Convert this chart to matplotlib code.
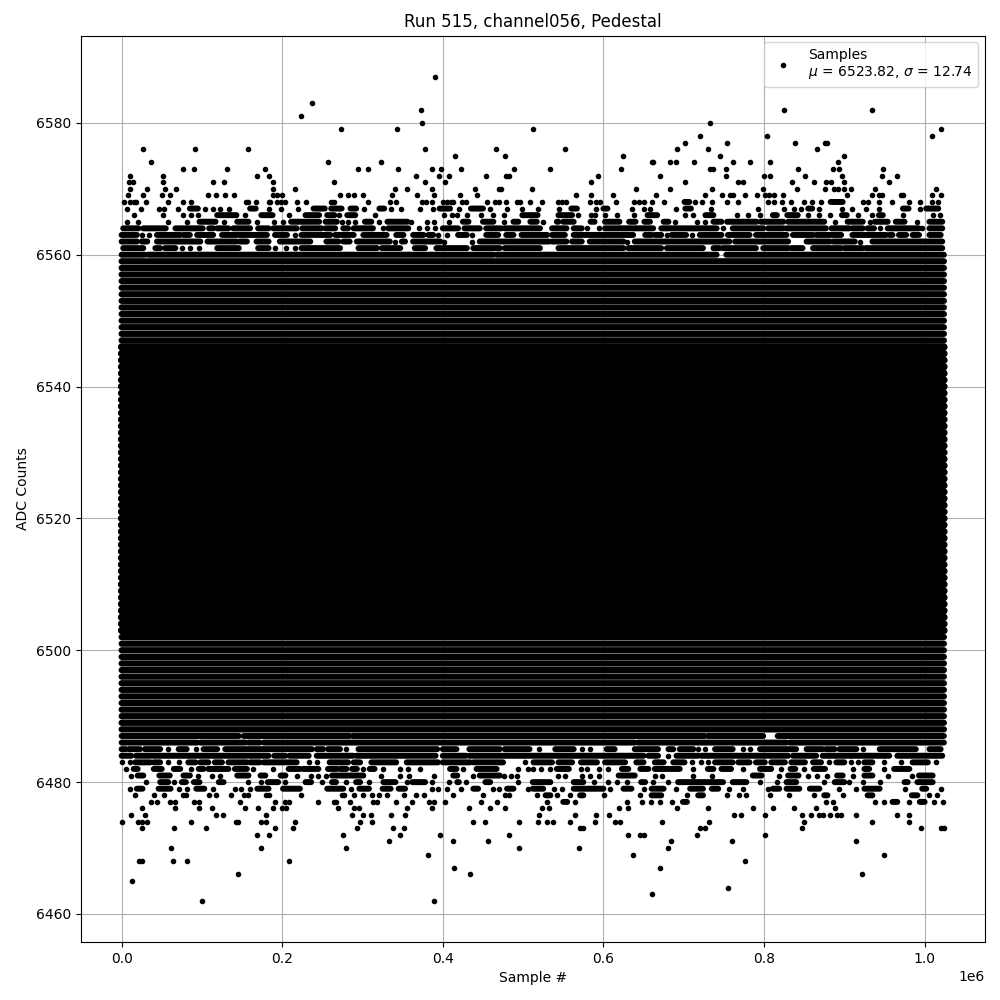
import numpy as np
import matplotlib
matplotlib.use('Agg')
import matplotlib.pyplot as plt

# sample positions, in thousands of samples
# a number is one sample, a tuple is a run of touching samples
lvl_6587 = [390.6]
lvl_6583 = [237.6]
lvl_6582 = [373, 825, 934]
lvl_6581 = [224]
lvl_6580 = [374, 733]
lvl_6579 = [273.6, 343, 512, 1021]
lvl_6578 = [720, 804, 1009]
lvl_6577 = [701, 754, 838, 876, 879]
lvl_6576 = [27, 91, 158, 378, 466, 552, 692, 730, 866]
lvl_6575 = [415, 478, 625, 745, 899]
lvl_6574 = [37, 257, 323, 660, 662, 683, 691, 713, 761, 783, 807, 892]
lvl_6573 = [77, 90, 131, 179, 295, 307, 344.5, 386, 398, 423, 489, 534, 622, 733, 737, 753, 842, 886, 894, 948]
lvl_6572 = [10, 51, 168, 184, 367, 395.5, 407.5, 454, 479, 482.5, 593, 670, 753, 800, 807, 851, 897, 947, 966]
lvl_6571 = [9, 14, 51, 114, 127, 189, 264, 378, 403, 584, 702, 768, 774, 835, 862, 877, 883, 899, 956]
lvl_6570 = [11, 32, 53.5, 68, 189, 216, 341, 356, 387, 440, 470, 472.6, 511, 641, 683, 735, 799, 841, 876, 887, 892,
            899, 908, 938, 1014]
lvl_6569 = [7.5, 27, 50, 60, 108, 117, 129, 140.5, 189, 193, 200, 272, 282, 290, 301, 337, 368, 389, 421.6, 443, 566,
            585, 612, 666, 727, 748, 758, 761, 776, 791, 801, 806, 812, 824, 903, 935, 943, 947, 970, 973, 1009, 1020]
lvl_6568 = [2.5, 10, 15, 17.5, 30, 58, 76, 87, 155.5, 158, 167, 183, 185, 194, 198, 204, 218, 230, 261, 265, 307,
            334.5, 342, 374, 379, 387, 400, 405, 410, 413, 424, 429, 455, 465, 470, 479, 492.5, 496, 509, 523, 544,
            549, 554, 583, 591, 596, 616, 638, 644, 650, 661, 675, (701, 707), 714, 723, 735, 754, 768, 805, 812, 822,
            833, 850, 860, 871, (883, 898), 923, 930, 943, 960, 981, 994, 1009, 1017]
lvl_6567 = [7, 24, 47, 53, 70, (85, 95), 104, 114, 123, 134, (160, 167), 184, 198, 220, (239, 253), (261, 274),
            (285, 292), 302, (321, 327), 335, 348, 372, 388, (396, 409), 420, (435, 450), 459, 480, 499, 519, 545,
            (560, 567), 591, (600, 605), 636, 651, 658, 691, (702, 709), 734, 793, 825, 837, 846, (855, 860), 868,
            897, 909, 927, 943, (973, 980), 994, (1002, 1017)]
lvl_6566 = [15, 51, 76, 87, 95, (119, 143), 154, (174, 188), 208, (229, 246), (256, 265), 271, (281, 291), 316, 402,
            412, 418, 430, 448, 463, 476, (499, 518), (544, 561), 568, 584, 589, 602, 617, 638, (655, 667), 701, 712,
            (727, 737), 766, 780, 795, (811, 816), (829, 842), 855, 868, 882, (897, 903), 917, 934, (943, 948), 973,
            1011, 1019]
lvl_6565 = [7, 21, 58, 82, (97, 117), 127, (144, 158), 169, 190, 201, (211, 246), (254, 268), 274, 282, 291,
            (303, 311), 320, (331, 356), 360, 380, 389, 408, (425, 432), (450, 463), 476, (488, 494), (509, 517),
            525, (542, 544), (550, 563), (584, 589), (602, 620), (632, 640), (651, 658), (675, 681), 689, 717, 727,
            (737, 747), (754, 791), (796, 824), (830, 875), 889, (904, 923), 932, (938, 954), (964, 975), 991,
            (1006, 1022)]
lvl_6564 = [(2, 21), (27, 55), (67, 101), (109, 114), (119, 133), (139, 160), (170, 183), (189, 218), (225, 249),
            (254, 266), (276, 282), (289, 313), 326, (332, 357), 370, 380, 390, (400, 419), (427, 446), (454, 473),
            (477, 521), (536, 554), (563, 573), 580, 594, (602, 633), (635, 662), (672, 681), (683, 741), 749,
            (761, 799), (805, 824), (828, 877), (884, 906), (910, 923), (929, 937), 944, (954, 993), 997, (1006, 1022)]
lvl_6563 = [(0, 19), 26, 34, (44, 73), (77, 85), (94, 114), (125, 181), (191, 206), 216, (224, 260), (266, 289),
            (301, 330), (342, 351), (363, 376), (382, 388), 394, 405, (419, 430), 436, (454, 469), (479, 488),
            (498, 530), (536, 552), (563, 637), (652, 660), (664, 672), 679, (685, 703), 710, (720, 747), (755, 782),
            (790, 828), (836, 861), (865, 896), (910, 952), (956, 960), (968, 977), (985, 993), (1006, 1020)]
lvl_6562 = [(0, 19), (25, 32), (44, 67), (69, 98), (107, 143), (147, 156), (168, 183), (197, 235), (255, 270),
            (276, 284), (293, 334), 340, (349, 353), (363, 397), 401, 436, (446, 532), (536, 554), (561, 573),
            (583, 625), 629, (639, 757), (764, 830), (853, 882), (886, 913), 919, (935, 1022)]
lvl_6561 = [(2, 27), (42, 48), (54, 67), 75, 85, 96, (119, 146), (170, 183), 191, 205, 216, (224, 272), (295, 318),
            (324, 347), (365, 378), (392, 430), (438, 471), (477, 521), (544, 625), (631, 672), (679, 724), (737, 745),
            (749, 790), (799, 830), (834, 848), (861, 896), (900, 923), (927, 1022)]
lvl_6560 = [(0, 29), (33, 463), (467, 741), (753, 1024)]
lvl_6487 = [(0, 146), (152, 284), (288, 726), (730, 799), (817, 1024)]
lvl_6486 = [(0, 94), (98, 154), (158, 172), (177, 639), (643, 828), (832, 1024)]
lvl_6485 = [(0, 5), (9, 23), (29, 48), 58, (71, 81), 93, (102, 119), (129, 237), (243, 251), (257, 272), 280,
            (295, 393), (400, 417), (433, 471), (477, 508), 520, (540, 563), 573, 583, (604, 614), (639, 668),
            (681, 687), (695, 712), 718, 726, (739, 761), 774, 782, (795, 840), (853, 873), (877, 888), (894, 915),
            923, (944, 989), (1006, 1020)]
lvl_6484 = [(0, 12), (18, 183), (190, 204), (209, 233), (243, 288), (292, 391), (400, 429), (433, 650), (656, 668),
            681, (691, 718), (722, 830), (836, 865), (873, 956), (966, 1022)]
lvl_6483 = [0, 10, (17, 36), (40, 48), 58, 72, (83, 92), (98, 108), (116, 125), (133, 156), (160, 172), (177, 218),
            233, 243, (259, 282), (289, 297), (311, 342), (355, 394), (400, 434), (438, 475), 502, (513, 536),
            (544, 561), (572, 592), (602, 627), (641, 650), (664, 675), (687, 701), 710, 722, 730, (739, 761),
            (768, 782), (790, 801), (809, 826), (834, 851), (861, 871), 881, (890, 900), 908, 917, (925, 935), 949,
            971, (985, 1004), 1014]
lvl_6482 = [5, (15, 20), (40, 50), (65, 73), 87, (96, 102), (108, 133), (141, 156), 163, 188, (208, 222), (226, 245),
            (257, 268), (272, 280), (287, 293), 301, (309, 315), 326, 347, 357, 372, (409, 417), 425, (442, 467), 494,
            506, 512, 522, 534, (542, 557), 572, 580, 594, 606, (623, 631), (646, 656), (664, 695), 712, (730, 737),
            (747, 759), 774, (795, 809), 821, (833, 839), 850, (862, 876), 911, (925, 931), 949, (962, 981)]
lvl_6481 = [12, (20, 27), (47, 60), (77, 85), 95, 112, 122, (144, 158), (173, 179), (198, 204), 219, 236, 245, 254,
            (262, 301), 323, 347, 358, 389, (413, 418), 437, (446, 471), 476, 485, 493, 543, 552, 573, 583, 594,
            (619, 639), 664, 673, 712, 735, (786, 797), 819, (830, 843), 855, 866, 878, (891, 898), 911, (925, 935),
            954, 984, (993, 1010)]
lvl_6480 = [30, (48, 58), 65, (75, 80), (90, 97), (121, 127), 158, 174, (182, 195), 204, (229, 236), 249, (262, 267),
            279, (292, 297), 308, (326, 341), 356, (362, 378), 387, 408, (418, 420), 429, (453, 459), 494, (512, 534),
            (563, 575), 588, 606, 617, 629, (647, 652), 662, 681, (693, 749), (761, 778), 795, 816, (828, 840), 875,
            (888, 900), 906, 923, 944, (975, 979), (991, 1010)]
lvl_6479 = [10, (19, 26), (46, 61), 72, 82, (93, 103), 114, 141, 149, 160, (169, 183), (201, 222), (256, 276), 286,
            (296, 308), (325, 335), (345, 353), 387, 394, 405, 423, (438, 444), 463, 470, (480, 488), 506, (512, 525),
            538, 548, (563, 600), 608, (625, 635), 650, (660, 675), 691, (708, 724), (735, 743), 757, 774, 805,
            (811, 819), (828, 844), (857, 869), 894, 915, (925, 944), 975, (997, 1002), 1020]
lvl_6478 = [17, 40, 53, 77, 80, 109, 118, 136, 152, 158, 180, 184, 224, 274, 277, 289, 301, 312, 321, 331, 352, 367,
            376, 413, 450, 478, 483, 517, (528, 534), 542, 559, (571, 575), 601, 645, (660, 672), 704, (718, 724), 754,
            769, 778, 807, 831, 862, (875, 879), 898, (929, 935), (984, 991), 1006, 1015]
lvl_6477 = [36, 44, 60, 66, 90, 96, 148, 191.5, 203, 208, 244, 264, 267, 285, 313, 318, 342, 362, 383, 389, 403, 447,
            467, 530, (550, 555), 564, 629, 648, 659, 671, 686, (699, 704), 877, 886, 938, 950, (960, 966), 980,
            (994, 1000), 1012, 1023]
lvl_6476 = [25, 67, 96, 112, 154, 170, 189, 200, 205, 269, 290, 296, 356, 387, 433, 459, 478, 523, 532, 620, 631, 692,
            730, 786, 811, 837, 865, 888]
lvl_6475 = [12, 29, 118, 126, 180, 287, 300, 311, 336, 353, 520, 564, 591, 607, 763, 771, 801, 847, 858, 868, 874, 882,
            891, 896, 914, 966, 981]
lvl_6474 = [0, 20, 25, 32, 87, 143, 145.5, 174, 180, 216, 297, 312, 438, 453, 495, 518, 530, 537, 558, 589, 615, 621,
            673, 732, 850, 935, 980]
lvl_6473 = [26, 65, 104.5, 191.5, 214, 293.5, 338, 352, 571, 574, 720, 727, 847, 995, 1021, 1024]
lvl_6472 = [169, 184, 276, 347, 397, 483, 630, 646, 650, 716, 801]
lvl_6471 = [333, 413, 456, 684, 760, 915]
lvl_6470 = [61, 174, 279, 495, 569, 681]
lvl_6469 = [382, 637, 949]
lvl_6468 = [22, 25, 63.4, 81, 208, 776]
lvl_6467 = [414, 671]
lvl_6466 = [145.5, 434, 922]
lvl_6465 = [12.4]
lvl_6464 = [755]
lvl_6463 = [660]
lvl_6462 = [100.7, 389.3]

levels = [6587, 6583, 6582, 6581, 6580, 6579, 6578, 6577, 6576, 6575, 6574, 6573, 6572, 6571, 6570, 6569, 6568, 6567,
          6566, 6565, 6564, 6563, 6562, 6561, 6560, 6487, 6486, 6485, 6484, 6483, 6482, 6481, 6480, 6479, 6478, 6477,
          6476, 6475, 6474, 6473, 6472, 6471, 6470, 6469, 6468, 6467, 6466, 6465, 6464, 6463, 6462]
rows = [lvl_6587, lvl_6583, lvl_6582, lvl_6581, lvl_6580, lvl_6579, lvl_6578, lvl_6577, lvl_6576, lvl_6575, lvl_6574,
        lvl_6573, lvl_6572, lvl_6571, lvl_6570, lvl_6569, lvl_6568, lvl_6567, lvl_6566, lvl_6565, lvl_6564, lvl_6563,
        lvl_6562, lvl_6561, lvl_6560, lvl_6487, lvl_6486, lvl_6485, lvl_6484, lvl_6483, lvl_6482, lvl_6481, lvl_6480,
        lvl_6479, lvl_6478, lvl_6477, lvl_6476, lvl_6475, lvl_6474, lvl_6473, lvl_6472, lvl_6471, lvl_6470, lvl_6469,
        lvl_6468, lvl_6467, lvl_6466, lvl_6465, lvl_6464, lvl_6463, lvl_6462]

# rows that are occupied across the whole run, too dense to read one sample at a time
band_levels = np.arange(6488, 6560)
band_start = 0
band_end = 1024
solid_low = 6503
solid_high = 6546

fig, ax = plt.subplots(figsize=(10, 10))

for level in band_levels:
    lw = 5.4 if solid_low <= level <= solid_high else 4.5
    ax.plot([band_start * 1e3, band_end * 1e3], [level, level], color='black', lw=lw, solid_capstyle='round',
            snap=False)

xs = []
ys = []
for level, row in zip(levels, rows):
    for item in row:
        if isinstance(item, tuple):
            ax.plot([item[0] * 1e3, item[1] * 1e3], [level, level], color='black', lw=4.3, solid_capstyle='round',
                    snap=False)
        else:
            xs.append(item * 1e3)
            ys.append(level)

ax.plot(xs, ys, '.', color='black', label='Samples\n$\\mu$ = 6523.82, $\\sigma$ = 12.74')

ax.set_title('Run 515, channel056, Pedestal')
ax.set_xlabel('Sample #')
ax.set_ylabel('ADC Counts')
ax.grid(True)
ax.legend(loc='upper right')
fig.subplots_adjust(left=0.0805, right=0.985, top=0.9645, bottom=0.058)
fig.savefig('out.png', dpi=100)
